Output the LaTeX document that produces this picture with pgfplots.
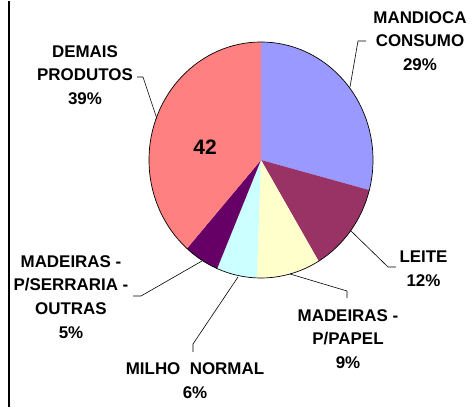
\documentclass[border=0pt]{standalone}
\usepackage{pgfplots}
\usepackage{pgfplotstable}
\pgfplotsset{compat=1.18}
\usepackage{fontspec}
\setmainfont{Liberation Sans}
\definecolor{cMand}{HTML}{9999FF}
\definecolor{cLeite}{HTML}{993366}
\definecolor{cPapel}{HTML}{FFFFCC}
\definecolor{cMilho}{HTML}{CCFFFF}
\definecolor{cSerr}{HTML}{660066}
\definecolor{cDemais}{HTML}{FF8080}
\pgfplotstableread[col sep=comma]{
label,value
MANDIOCA CONSUMO,29.1
LEITE,12.3
MADEIRAS - P/PAPEL,9.2
MILHO NORMAL,5.8
MADEIRAS - P/SERRARIA - OUTRAS,5.1
DEMAIS PRODUTOS,38.5
}\piedata
\begin{document}
\begin{tikzpicture}
\begin{axis}[
  scale only axis, width=472bp, height=406bp,
  xmin=0, xmax=472, ymin=0, ymax=406,
  hide axis, clip=false,
]
\pgfplotsextra{%
  \path (axis cs:0,0) rectangle (axis cs:472,406);
  \gdef\curang{90}%
  \foreach \i/\col in {0/cMand,1/cLeite,2/cPapel,3/cMilho,4/cSerr,5/cDemais}{%
    \pgfplotstablegetelem{\i}{value}\of\piedata
    \pgfmathsetmacro\endang{\curang-3.6*\pgfplotsretval}%
    \fill[fill=\col] (axis cs:261,247) -- ++(\curang:112bp and 118bp)
      arc[start angle=\curang,end angle=\endang,x radius=112bp,y radius=118bp] -- cycle;
    \xdef\curang{\endang}%
  }%
  \draw[black,line width=0.7pt] (axis cs:261,247) ellipse[x radius=112bp,y radius=118bp];
  % left rule
  \draw[black,line width=2bp] (axis cs:9,0) -- (axis cs:9,406);
  % leader lines
  \begin{scope}[black,line width=0.6pt]
  \draw (axis cs:350,320) -- (axis cs:358,366) -- (axis cs:366,366);
  \draw (axis cs:157,288) -- (axis cs:143,330) -- (axis cs:137,330);
  \draw (axis cs:350,177) -- (axis cs:388,140) -- (axis cs:396,140);
  \draw (axis cs:290,133) -- (axis cs:347,116) -- (axis cs:347,109);
  \draw (axis cs:238,130) -- (axis cs:193,63) -- (axis cs:193,55);
  \draw (axis cs:202,146) -- (axis cs:141,111) -- (axis cs:133,111);
  \end{scope}
  % labels
  \begin{scope}[every node/.style={inner sep=0pt,anchor=north,align=center,
      font=\fontsize{17}{24}\selectfont\bfseries}]
  \node at (axis cs:420,396) {MANDIOCA\\CONSUMO\\29\%};
  \node at (axis cs:85,362) {DEMAIS\\PRODUTOS\\39\%};
  \node at (axis cs:423.5,156) {LEITE\\12\%};
  \node at (axis cs:348,98) {MADEIRAS -\\P/PAPEL\\9\%};
  \node at (axis cs:195,44.3) {MILHO\ \ NORMAL\\6\%};
  \node at (axis cs:71,152) {MADEIRAS -\\P/SERRARIA -\\OUTRAS\\5\%};
  \end{scope}
  \node[font=\fontsize{21}{24}\selectfont\bfseries,inner sep=0pt] at (axis cs:205,260) {42};
}
\end{axis}
\end{tikzpicture}
\end{document}
